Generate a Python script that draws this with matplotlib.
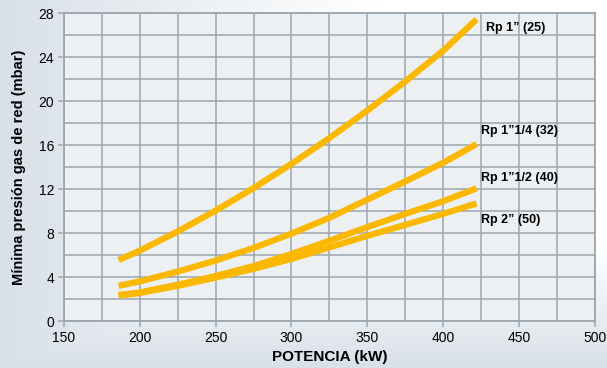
import matplotlib
matplotlib.use("Agg")
import matplotlib.pyplot as plt
import numpy as np

plt.rcParams['font.family'] = ['Liberation Sans', 'DejaVu Sans']

potencia = [186, 200, 225, 250, 275, 300, 325, 350, 375, 400, 422]
rp_25 = [5.55, 6.4, 8.15, 10.05, 12.1, 14.3, 16.65, 19.15, 21.8, 24.6, 27.45]
rp_32 = [3.2, 3.6, 4.5, 5.5, 6.65, 7.95, 9.4, 11.05, 12.7, 14.4, 16.1]
rp_40 = [2.36, 2.6, 3.3, 4.1, 5.0, 6.1, 7.3, 8.55, 9.75, 10.9, 12.07]
rp_50 = [2.3, 2.55, 3.2, 3.95, 4.75, 5.65, 6.7, 7.75, 8.75, 9.75, 10.7]

labels = ['Rp 1\u201d (25)', 'Rp 1\u201d1/4 (32)', 'Rp 1\u201d1/2 (40)', 'Rp 2\u201d (50)']
label_pos = [(428, 26.7), (425, 17.3), (425, 13.0), (425, 9.2)]

fig = plt.figure(figsize=(6.07, 3.68), dpi=100)

# soft background gradient
bg = fig.add_axes([0, 0, 1, 1], zorder=-10)
gx = np.linspace(0, 1, 200)
gy = np.linspace(0, 1, 200)
GX, GY = np.meshgrid(gx, gy)
t = np.clip(np.minimum(GX * 1.6, (1 - GY) * 3.0), 0, 1)
c0 = np.array([0.85, 0.88, 0.91])
c1 = np.array([1.0, 1.0, 1.0])
img = c0 + (c1 - c0) * t[..., None]
bg.imshow(img, extent=[0, 1, 0, 1], aspect='auto', origin='upper')
bg.axis('off')

ax = fig.add_axes([0.1054, 0.1277, 0.8746, 0.8362])
ax.set_facecolor('#edf0f3')

grid_col = '#9ba6ae'
ax.set_xlim(150, 500)
ax.set_ylim(0, 28)
ax.set_xticks(range(150, 501, 50))
ax.set_yticks(range(0, 29, 4))
ax.set_xticks(range(150, 501, 25), minor=True)
ax.set_yticks(range(0, 29, 2), minor=True)
ax.grid(which='both', color=grid_col, linewidth=1.1)
ax.set_axisbelow(True)
ax.tick_params(which='major', length=4, width=1.1, color=grid_col,
               labelsize=10, pad=3)
ax.tick_params(which='minor', length=0)
for s in ax.spines.values():
    s.set_color(grid_col)
    s.set_linewidth(1.3)

col = '#fbb800'
for ys in [rp_25, rp_32, rp_40, rp_50]:
    ax.plot(potencia, ys, color=col, linewidth=4.5, solid_capstyle='butt',
            solid_joinstyle='round')

for lab, (px, py) in zip(labels, label_pos):
    ax.text(px, py, lab, fontsize=9, fontweight='bold', va='center', ha='left')

ax.set_xlabel('POTENCIA (kW)', fontsize=11, fontweight='bold', labelpad=4)
ax.set_ylabel('Mínima presión gas de red (mbar)', fontsize=10.5,
              fontweight='bold', labelpad=9)

fig.savefig('out.png', dpi=100)
